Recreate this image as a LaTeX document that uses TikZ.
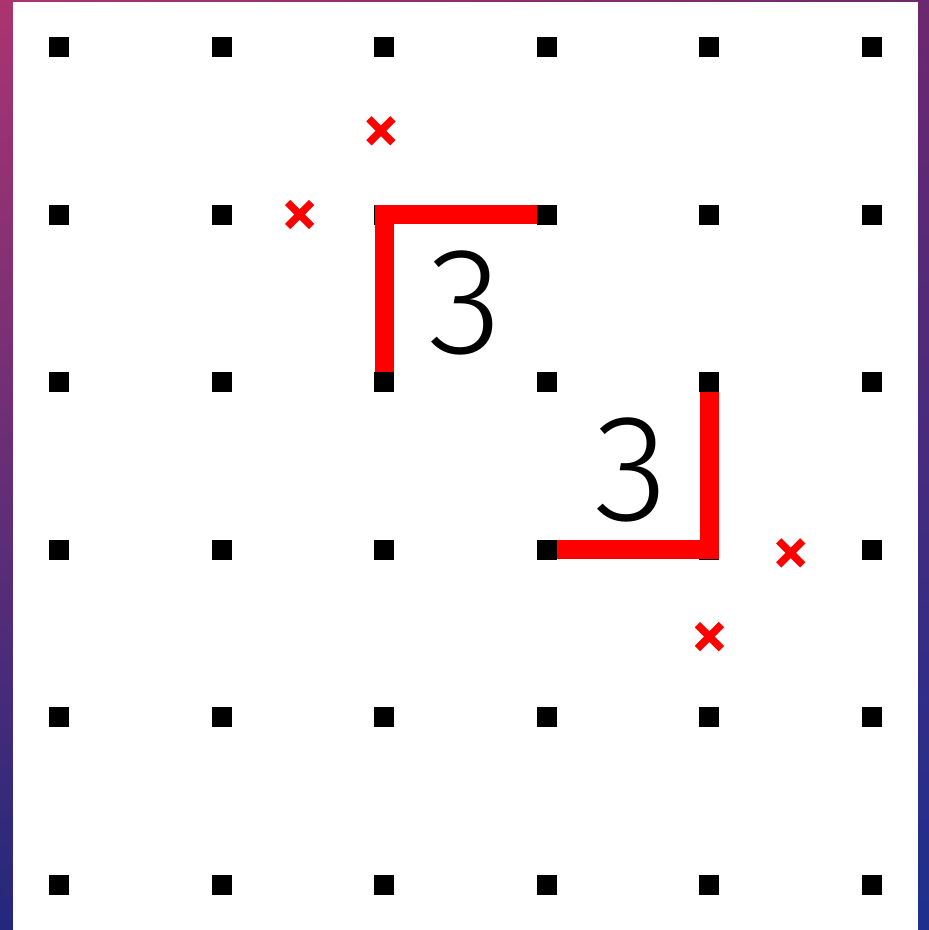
\documentclass[tikz,border=0pt]{standalone}
\usepackage{fontspec}
\setmainfont{Liberation Sans}
\newfontfamily\cluefont{Fira Sans}[UprightFont=* Light]
\usetikzlibrary{shadings}
\definecolor{bgTL}{RGB}{172,52,112}
\definecolor{bgTR}{RGB}{108,40,110}
\definecolor{bgBL}{RGB}{35,40,125}
\definecolor{bgBR}{RGB}{30,47,142}
\definecolor{mark}{RGB}{255,0,0}
\begin{document}
\begin{tikzpicture}[x=1pt,y=-1pt,
  gdot/.style={fill=black,draw=none,minimum size=20pt,inner sep=0pt,outer sep=0pt},
  wall/.style={draw=mark,line width=19pt,line join=miter},
  cross/.style={draw=mark,line width=7.5pt},
  clue/.style={inner sep=0pt,font=\cluefont\fontsize{152}{152}\selectfont}]
\useasboundingbox (0,0) rectangle (929,930);
\shade[upper left=bgTL,upper right=bgTR,lower left=bgBL,lower right=bgBR] (0,0) rectangle (929,930);
\fill[white] (12.7,1.7) rectangle (918.3,930);
\begin{scope}[shift={(59pt,-47pt)},x=162.6pt,y=-167.5pt]
  % dots
  \foreach \i in {0,...,5}{
    \foreach \j in {0,...,5}{
      \node[gdot] (d\i\j) at (\i,\j) {};
    }
  }
  % walls (drawn over the corner dots)
  \draw[wall] (d31.center) -- (d21.center) -- (d22.center);
  \draw[wall] (d42.center) -- (d43.center) -- (d33.center);
  % end dots on top of the walls
  \foreach \k in {31,22,42,33}{
    \fill[black] ([shift={(-10pt,-10pt)}]d\k.center) rectangle ([shift={(10pt,10pt)}]d\k.center);
  }
  % clues
  \node[clue] (c1) at ([yshift=-5pt]2.5,1.5) {3};
  \node[clue] (c2) at ([yshift=-4pt]3.52,2.5) {3};
  % crosses
  \coordinate (x1) at (1.98,0.5);
  \coordinate (x2) at (1.48,1);
  \coordinate (x3) at (4.5,3.02);
  \coordinate (x4) at (4,3.52);
  \foreach \n in {x1,x2,x3,x4}{
    \draw[cross] ([shift={(-12pt,-12pt)}]\n) -- ([shift={(12pt,12pt)}]\n);
    \draw[cross] ([shift={(-12pt,12pt)}]\n) -- ([shift={(12pt,-12pt)}]\n);
  }
\end{scope}
\end{tikzpicture}
\end{document}
